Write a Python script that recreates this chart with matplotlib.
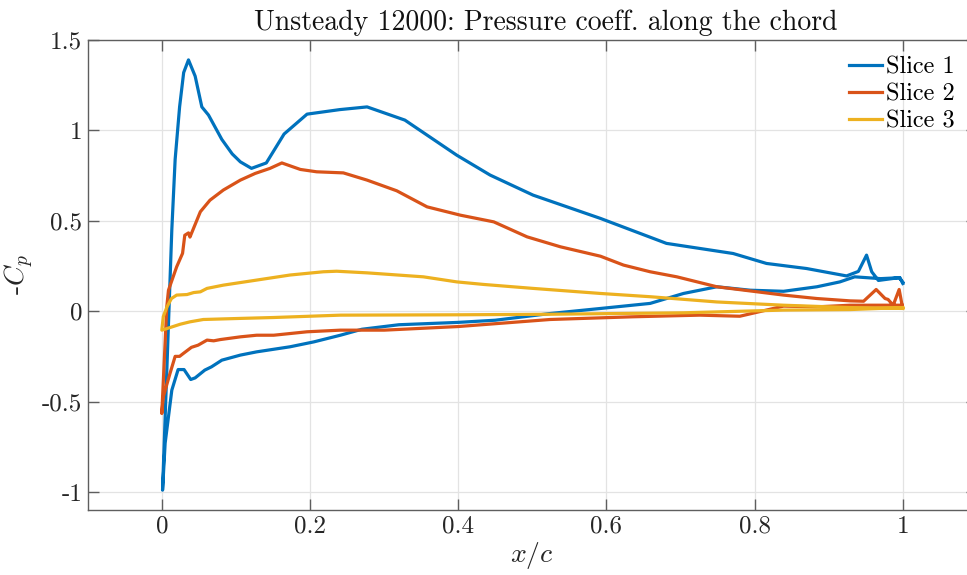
import matplotlib
matplotlib.use("Agg")
import matplotlib.pyplot as plt
from matplotlib.ticker import FixedLocator
import numpy as np

plt.rcParams['font.family'] = 'serif'
plt.rcParams['font.serif'] = ['cmr10']
plt.rcParams['mathtext.fontset'] = 'cm'
plt.rcParams['axes.unicode_minus'] = False
plt.rcParams['axes.formatter.use_mathtext'] = True

# Slice 1: suction side (LE -> TE) and pressure side (LE -> TE)
x_up1 = [0.001, 0.0135, 0.018, 0.024, 0.0295, 0.036, 0.045, 0.054, 0.063, 0.081, 0.095,
         0.106, 0.121, 0.141, 0.165, 0.196, 0.24, 0.277, 0.328, 0.398, 0.443, 0.501,
         0.592, 0.681, 0.771, 0.816, 0.87, 0.924, 0.94, 0.951, 0.958, 0.967, 0.996, 1.0]
cp_up1 = [-0.99, 0.45, 0.84, 1.13, 1.32, 1.39, 1.30, 1.13, 1.085, 0.95, 0.87,
          0.826, 0.79, 0.82, 0.98, 1.09, 1.115, 1.13, 1.057, 0.863, 0.753, 0.642,
          0.513, 0.375, 0.319, 0.264, 0.236, 0.195, 0.22, 0.31, 0.218, 0.17, 0.186, 0.153]
x_lo1 = [0.001, 0.0045, 0.0135, 0.022, 0.030, 0.039, 0.045, 0.058, 0.067, 0.081, 0.106,
         0.128, 0.173, 0.205, 0.241, 0.27, 0.32, 0.4, 0.45, 0.524, 0.592, 0.659, 0.704,
         0.749, 0.794, 0.839, 0.884, 0.915, 0.935, 0.97, 0.995, 1.0]
cp_lo1 = [-0.99, -0.73, -0.437, -0.323, -0.323, -0.378, -0.369, -0.326, -0.308, -0.271, -0.243,
          -0.225, -0.197, -0.17, -0.133, -0.10, -0.075, -0.062, -0.05, -0.013, 0.015, 0.043, 0.098,
          0.135, 0.116, 0.11, 0.135, 0.162, 0.19, 0.18, 0.185, 0.16]

# Slice 2
x_up2 = [0.0, 0.0067, 0.009, 0.02, 0.028, 0.031, 0.036, 0.038, 0.052, 0.065, 0.083, 0.106,
         0.126, 0.146, 0.162, 0.187, 0.209, 0.245, 0.277, 0.317, 0.358, 0.403, 0.448,
         0.493, 0.538, 0.592, 0.623, 0.659, 0.695, 0.749, 0.794, 0.839, 0.884, 0.929,
         0.947, 0.964, 0.976, 0.98, 0.987, 0.995, 0.999]
cp_up2 = [-0.566, 0.024, 0.116, 0.245, 0.32, 0.42, 0.433, 0.41, 0.55, 0.614, 0.67, 0.725,
          0.762, 0.79, 0.82, 0.784, 0.771, 0.765, 0.725, 0.666, 0.577, 0.531, 0.494,
          0.411, 0.356, 0.304, 0.255, 0.218, 0.19, 0.135, 0.112, 0.089, 0.07, 0.057,
          0.055, 0.12, 0.07, 0.065, 0.033, 0.12, 0.033]
x_lo2 = [0.0, 0.002, 0.011, 0.018, 0.024, 0.029, 0.04, 0.049, 0.061, 0.07, 0.079, 0.106,
         0.128, 0.151, 0.196, 0.241, 0.3, 0.4, 0.524, 0.636, 0.726, 0.78, 0.839, 0.884,
         0.929, 0.999]
cp_lo2 = [-0.566, -0.474, -0.345, -0.25, -0.25, -0.234, -0.2, -0.188, -0.16, -0.164, -0.157, -0.142,
          -0.133, -0.133, -0.114, -0.105, -0.105, -0.085, -0.046, -0.031, -0.022, -0.028, 0.028, 0.024,
          0.033, 0.033]

# Slice 3
x_up3 = [0.0, 0.002, 0.007, 0.013, 0.02, 0.034, 0.043, 0.052, 0.061, 0.083, 0.128, 0.173,
         0.218, 0.236, 0.277, 0.353, 0.398, 0.434, 0.501, 0.592, 0.659, 0.749, 0.839,
         0.929, 1.0]
cp_up3 = [-0.105, -0.03, 0.024, 0.07, 0.089, 0.092, 0.103, 0.107, 0.126, 0.144, 0.172, 0.2,
          0.218, 0.221, 0.212, 0.19, 0.162, 0.148, 0.126, 0.098, 0.08, 0.051, 0.033,
          0.02, 0.015]
x_lo3 = [0.0, 0.007, 0.025, 0.038, 0.056, 0.106, 0.151, 0.241, 0.4, 0.524, 0.704, 0.839,
         0.929, 1.0]
cp_lo3 = [-0.105, -0.096, -0.072, -0.059, -0.046, -0.04, -0.035, -0.022, -0.02, -0.017, -0.009, 0.006,
          0.009, 0.02]

labels = ['Slice 1', 'Slice 2', 'Slice 3']
colors = ['#0072BD', '#D95319', '#EDB120']
x_ticks = [0, 0.2, 0.4, 0.6, 0.8, 1]
y_ticks = [-1, -0.5, 0, 0.5, 1, 1.5]


def closed_loop(xu, cu, xl, cl):
    # suction side from TE to LE, then pressure side LE to TE
    x = list(reversed(xu)) + list(xl)
    y = list(reversed(cu)) + list(cl)
    return np.array(x), np.array(y)


fig = plt.figure(figsize=(9.67, 5.75), dpi=100)
ax = fig.add_axes([0.0907, 0.113, 0.9196, 0.8174])

loops = [(x_up1, cp_up1, x_lo1, cp_lo1),
         (x_up2, cp_up2, x_lo2, cp_lo2),
         (x_up3, cp_up3, x_lo3, cp_lo3)]
for (xu, cu, xl, cl), lab, col in zip(loops, labels, colors):
    x, y = closed_loop(xu, cu, xl, cl)
    ax.plot(x, y, color=col, lw=2.3, label=lab, solid_joinstyle='round')

ax.set_xlim(-0.1, 1.1)
ax.set_ylim(-1.1, 1.5)
ax.xaxis.set_major_locator(FixedLocator(x_ticks))
ax.yaxis.set_major_locator(FixedLocator(y_ticks))
ax.set_xticklabels(['%g' % v for v in x_ticks])
ax.set_yticklabels(['%g' % v for v in y_ticks])

ax.grid(True, color='#e3e3e3', lw=0.9)
ax.set_axisbelow(True)
for s in ax.spines.values():
    s.set_color('#5e5e5e')
    s.set_linewidth(1.0)
ax.tick_params(direction='in', length=8, width=1.0, color='#5e5e5e',
               labelsize=18, labelcolor='#262626', top=True, right=True, pad=4)

ax.set_xlabel('$x/c$', fontsize=20, color='#262626', labelpad=2)
ax.set_ylabel('-$C_p$', fontsize=20, color='#262626', labelpad=4)
ax.set_title('Unsteady 12000: Pressure coeff. along the chord', fontsize=20,
             color='#111111', x=0.515, pad=7)

leg = ax.legend(loc='upper right', bbox_to_anchor=(0.986, 0.985), frameon=False,
                fontsize=17.5, handlelength=1.36, handletextpad=0.15, labelspacing=0.2,
                borderaxespad=0.0)

fig.savefig('out.png', dpi=100)
